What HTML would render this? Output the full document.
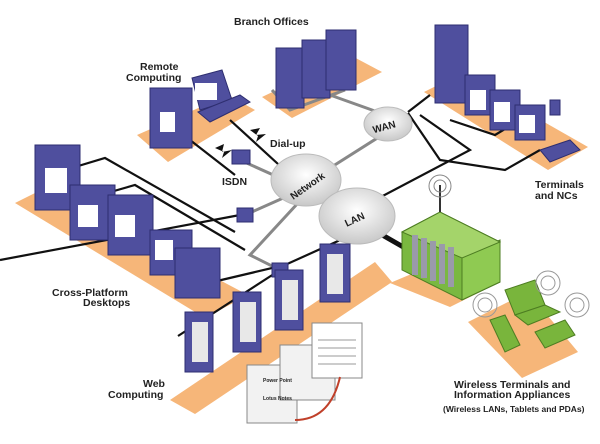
<!DOCTYPE html>
<html><head><meta charset="utf-8"><style>
html,body{margin:0;padding:0;background:#fff}
svg{display:block}
text{font-family:"Liberation Sans",sans-serif;font-weight:bold;fill:#222}
</style></head><body>
<svg width="600" height="444" viewBox="0 0 600 444" xmlns="http://www.w3.org/2000/svg" font-size="10.5">
<defs>
<radialGradient id="cl" cx="50%" cy="40%" r="60%"><stop offset="0" stop-color="#fff"/><stop offset="1" stop-color="#c8c8c8"/></radialGradient>
</defs>
<g fill="#f6b679">
<polygon points="262,97 350,55 382,72 292,118"/>
<polygon points="137,135 228,95 255,110 168,162"/>
<polygon points="15,203 45,188 248,295 205,318"/>
<polygon points="424,92 460,74 588,147 548,170"/>
<polygon points="170,400 375,262 392,282 195,414"/>
<polygon points="390,283 440,262 500,282 450,307"/>
<polygon points="468,322 528,292 578,352 522,378"/>
</g>
<g stroke="#888" stroke-width="3" fill="none">
<polyline points="240,160 280,178"/>
<polyline points="245,215 290,195"/>
<polyline points="330,168 390,130"/>
<polyline points="295,60 300,85 330,95 400,120"/>
<polyline points="272,90 290,110 345,90"/>
<polyline points="310,190 250,255 300,280"/>
</g>
<g stroke="#111" stroke-width="2.2" fill="none">
<polyline points="65,170 105,158 235,232"/>
<polyline points="100,195 135,185 245,250"/>
<polyline points="0,260 240,215"/>
<polyline points="200,285 285,265 380,222"/>
<polyline points="178,336 280,270"/>
<polyline points="375,200 470,150 420,115"/>
<polyline points="408,113 440,160 505,170 540,150"/>
<polyline points="450,120 495,135 520,120"/>
<polyline points="430,95 408,112"/>
<polyline points="190,140 235,175"/>
<polyline points="230,120 290,175"/>
</g>
<g stroke="#111" stroke-width="5"><line x1="300" y1="188" x2="330" y2="205"/><line x1="370" y1="228" x2="405" y2="248"/></g>
<g fill="#111"><polygon points="215,148 224,144 222,152 232,150 222,158 224,152"/><polygon points="250,130 260,128 256,135 266,134 256,142 258,136"/></g>
<g fill="url(#cl)" stroke="#bbb" stroke-width="1">
<ellipse cx="388" cy="124" rx="24" ry="17"/>
<ellipse cx="306" cy="180" rx="35" ry="26"/>
<ellipse cx="357" cy="216" rx="38" ry="28"/>
</g>
<text x="372" y="130" transform="rotate(-15 385 125)" font-size="10">WAN</text>
<text x="285" y="190" transform="rotate(-35 305 182)" font-size="10">Network</text>
<text x="343" y="222" transform="rotate(-25 356 216)" font-size="10">LAN</text>
<g fill="#4f4f9e" stroke="#2e2e70" stroke-width="1">
<rect x="276" y="48" width="28" height="60"/><rect x="302" y="40" width="28" height="58"/><rect x="326" y="30" width="30" height="60"/>
<rect x="150" y="88" width="42" height="60"/>
<polygon points="192,78 222,70 232,100 200,110"/><polygon points="198,112 240,95 250,102 210,122"/>
<rect x="435" y="25" width="33" height="78"/>
<rect x="465" y="75" width="30" height="40"/><rect x="490" y="90" width="30" height="40"/><rect x="515" y="105" width="30" height="35"/>
<rect x="35" y="145" width="45" height="65"/><rect x="70" y="185" width="45" height="55"/><rect x="108" y="195" width="45" height="60"/><rect x="150" y="230" width="42" height="45"/><rect x="175" y="248" width="45" height="50"/>
<rect x="232" y="150" width="18" height="14"/><rect x="237" y="208" width="16" height="14"/><rect x="272" y="263" width="16" height="14"/>
<rect x="185" y="312" width="28" height="60"/><rect x="233" y="292" width="28" height="60"/><rect x="275" y="270" width="28" height="60"/><rect x="320" y="244" width="30" height="58"/>
<rect x="550" y="100" width="10" height="15"/><polygon points="540,150 570,140 580,150 550,162"/>
</g>
<g fill="#fff">
<rect x="160" y="112" width="15" height="20"/><rect x="195" y="83" width="22" height="17"/>
<rect x="45" y="168" width="22" height="25"/><rect x="78" y="205" width="20" height="22"/><rect x="115" y="215" width="20" height="22"/><rect x="155" y="240" width="18" height="20"/>
<rect x="470" y="90" width="16" height="20"/><rect x="494" y="102" width="16" height="20"/><rect x="519" y="115" width="16" height="18"/>
<rect x="192" y="322" width="16" height="40" fill="#e8e8e8"/><rect x="240" y="302" width="16" height="40" fill="#e8e8e8"/><rect x="282" y="280" width="16" height="40" fill="#e8e8e8"/><rect x="327" y="254" width="16" height="40" fill="#e8e8e8"/>
</g>
<g fill="#7ab840" stroke="#4d7d22">
<polygon points="402,232 440,212 500,242 500,282 462,300 402,270"/>
<polygon points="462,256 500,240 500,282 462,300" fill="#8fca52"/>
<polygon points="402,232 440,212 500,242 462,258" fill="#a4d46a"/>
</g>
<g fill="#9a9aaa"><rect x="412" y="235" width="6" height="40"/><rect x="421" y="238" width="6" height="40"/><rect x="430" y="241" width="6" height="40"/><rect x="439" y="244" width="6" height="40"/><rect x="448" y="247" width="6" height="40"/></g>
<line x1="440" y1="212" x2="440" y2="185" stroke="#333" stroke-width="2"/>
<g fill="none" stroke="#888"><circle cx="440" cy="186" r="6"/><circle cx="440" cy="186" r="11"/></g>
<g fill="#79b53c" stroke="#4d7d22">
<polygon points="490,320 505,315 520,345 505,352"/>
<polygon points="505,290 535,280 545,305 515,315"/><polygon points="515,315 545,305 560,312 528,325"/>
<polygon points="535,332 565,320 575,335 545,348"/>
</g>
<g fill="none" stroke="#999"><circle cx="485" cy="305" r="7"/><circle cx="485" cy="305" r="12"/><circle cx="548" cy="283" r="7"/><circle cx="548" cy="283" r="12"/><circle cx="577" cy="305" r="7"/><circle cx="577" cy="305" r="12"/></g>
<g fill="#f2f2f2" stroke="#888">
<rect x="247" y="365" width="50" height="58"/><rect x="280" y="345" width="55" height="55"/><rect x="312" y="323" width="50" height="55" fill="#fff"/>
</g>
<g stroke="#999" fill="none"><line x1="318" y1="340" x2="356" y2="340"/><line x1="318" y1="348" x2="356" y2="348"/><line x1="318" y1="356" x2="356" y2="356"/><line x1="318" y1="364" x2="356" y2="364"/></g>
<path d="M295,420 Q330,420 340,377" stroke="#c0402a" stroke-width="2" fill="none"/>
<text x="263" y="382" font-size="5">Power Point</text><text x="263" y="400" font-size="5">Lotus Notes</text>
<text x="234" y="25">Branch Offices</text>
<text x="140" y="70">Remote</text><text x="126" y="81">Computing</text>
<text x="270" y="147">Dial-up</text>
<text x="222" y="185">ISDN</text>
<text x="535" y="188">Terminals</text><text x="535" y="199">and NCs</text>
<text x="52" y="296">Cross-Platform</text><text x="83" y="306">Desktops</text>
<text x="143" y="387">Web</text><text x="108" y="398">Computing</text>
<text x="454" y="388">Wireless Terminals and</text><text x="454" y="398">Information Appliances</text>
<text x="443" y="412" font-weight="normal" font-size="8.5">(Wireless LANs, Tablets and PDAs)</text>
</svg>
</body></html>
